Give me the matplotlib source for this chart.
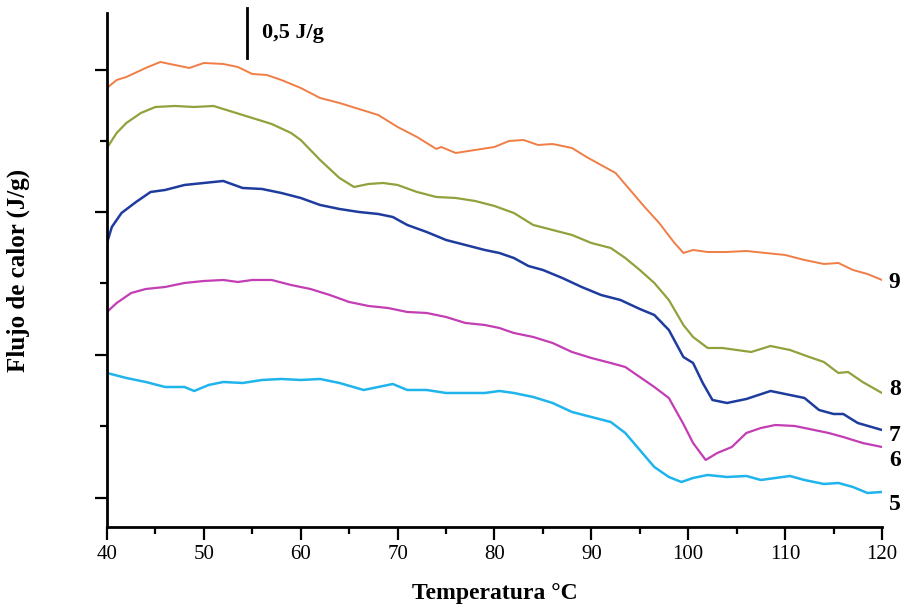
import matplotlib.pyplot as plt
from matplotlib.ticker import FixedLocator

# curva 9
t9 = [40, 41, 42, 44, 45.5, 47, 48.5, 50, 52, 53.5, 55, 56.5, 58, 60, 62, 64, 66, 68, 70, 72, 74, 74.5, 76, 78,
      80, 81.5, 83, 84.5, 86, 88, 89.5, 91, 92.5, 94, 95.5, 97, 98.5, 99.5, 100.5, 102, 104, 106, 108, 110, 112,
      114, 115.5, 117, 118.5, 120]
q9 = [4.39, 4.47, 4.50, 4.59, 4.65, 4.62, 4.59, 4.64, 4.63, 4.60, 4.53, 4.52, 4.47, 4.39, 4.29, 4.24, 4.18, 4.12,
      4.00, 3.90, 3.78, 3.80, 3.74, 3.77, 3.80, 3.86, 3.87, 3.82, 3.83, 3.79, 3.70, 3.62, 3.54, 3.37, 3.20, 3.04,
      2.85, 2.74, 2.77, 2.75, 2.75, 2.76, 2.74, 2.72, 2.67, 2.63, 2.64, 2.57, 2.53, 2.47]

# curva 8
t8 = [40, 41, 42, 43.5, 45, 47, 49, 51, 53, 55, 57, 59, 60, 62, 64, 65.5, 67, 68.5, 70, 72, 74, 76, 78, 80, 82,
      84, 86, 88, 90, 92, 93.5, 95, 96.5, 98, 99.5, 100.5, 102, 103.5, 105, 106.5, 108.5, 110.5, 112.5, 114,
      115.5, 116.5, 118, 120]
q8 = [3.79, 3.94, 4.04, 4.14, 4.20, 4.21, 4.20, 4.21, 4.15, 4.09, 4.03, 3.94, 3.87, 3.67, 3.49, 3.40, 3.43, 3.44,
      3.42, 3.35, 3.30, 3.29, 3.26, 3.21, 3.14, 3.02, 2.97, 2.92, 2.84, 2.79, 2.69, 2.57, 2.44, 2.27, 2.02, 1.90,
      1.79, 1.79, 1.77, 1.75, 1.81, 1.77, 1.70, 1.65, 1.54, 1.55, 1.45, 1.34]

# curva 7
t7 = [40, 40.5, 41.5, 43, 44.5, 46, 48, 50, 52, 54, 56, 58, 60, 62, 64, 66, 68, 69.5, 71, 73, 75, 77, 79, 80.5,
      82, 83.5, 85, 87, 89, 91, 93, 95, 96.5, 98, 99.5, 100.5, 101.5, 102.5, 104, 106, 108.5, 110, 112, 113.5,
      115, 116, 117.5, 120]
q7 = [2.84, 3.00, 3.14, 3.25, 3.35, 3.37, 3.42, 3.44, 3.46, 3.39, 3.38, 3.34, 3.29, 3.22, 3.18, 3.15, 3.13, 3.10,
      3.02, 2.95, 2.87, 2.82, 2.77, 2.74, 2.69, 2.61, 2.57, 2.49, 2.40, 2.32, 2.27, 2.18, 2.12, 1.97, 1.70, 1.64,
      1.44, 1.27, 1.24, 1.28, 1.36, 1.33, 1.29, 1.17, 1.13, 1.13, 1.04, 0.97]

# curva 6
t6 = [40, 41, 42.5, 44, 46, 48, 50, 52, 53.5, 55, 57, 59, 61, 63, 65, 67, 69, 71, 73, 75, 77, 79, 80.5, 82, 84,
      86, 88, 90, 92, 93.5, 95, 96.5, 98, 99.5, 100.5, 101.8, 103, 104.5, 106, 107.5, 109, 111, 113, 114.5, 116,
      118, 120]
q6 = [2.15, 2.24, 2.34, 2.38, 2.40, 2.44, 2.46, 2.47, 2.45, 2.47, 2.47, 2.42, 2.38, 2.32, 2.25, 2.21, 2.19, 2.15,
      2.14, 2.10, 2.04, 2.02, 1.99, 1.94, 1.90, 1.84, 1.75, 1.69, 1.64, 1.60, 1.50, 1.40, 1.29, 1.03, 0.84, 0.67,
      0.74, 0.80, 0.94, 0.99, 1.02, 1.01, 0.97, 0.94, 0.90, 0.84, 0.80]

# curva 5
t5 = [40, 42, 44, 46, 48, 49, 50.5, 52, 54, 56, 58, 60, 62, 64, 66.5, 69.5, 71, 73, 75, 77, 79, 80.5, 82, 84, 86,
      88, 90, 92, 93.5, 95, 96.5, 98, 99.3, 100.5, 102, 104, 106, 107.5, 109, 110.5, 112, 114, 115.5, 117, 118.5,
      120]
q5 = [1.54, 1.49, 1.45, 1.40, 1.40, 1.36, 1.42, 1.45, 1.44, 1.47, 1.48, 1.47, 1.48, 1.44, 1.37, 1.43, 1.37, 1.37,
      1.34, 1.34, 1.34, 1.36, 1.34, 1.30, 1.24, 1.15, 1.10, 1.05, 0.94, 0.77, 0.60, 0.50, 0.45, 0.49, 0.52, 0.50,
      0.51, 0.47, 0.49, 0.51, 0.47, 0.43, 0.44, 0.40, 0.34, 0.35]

labels = ['9', '8', '7', '6', '5']
label_y = [2.44, 1.37, 0.91, 0.66, 0.22]
colors = ['#F07D45', '#8FA23C', '#1E3C9E', '#C33DB4', '#20B4EC']

serif = ['Liberation Serif', 'DejaVu Serif']

fig = plt.figure(figsize=(9.02, 6.12), dpi=100)
ax = fig.add_axes([0.1186, 0.1389, 0.8592, 0.8399])

ax.plot(t9, q9, color=colors[0], lw=1.4)
ax.plot(t8, q8, color=colors[1], lw=1.6)
ax.plot(t7, q7, color=colors[2], lw=1.8)
ax.plot(t6, q6, color=colors[3], lw=1.6)
ax.plot(t5, q5, color=colors[4], lw=1.8)

for lab, yy in zip(labels, label_y):
    ax.text(120.7, yy, lab, fontsize=17, fontweight='bold', family=serif, va='center', ha='left', clip_on=False)

# barra de escala
ax.plot([54.45, 54.45], [4.69, 5.19], color='black', lw=2, clip_on=False)
ax.text(56.0, 4.94, '0,5 J/g', fontsize=16, fontweight='bold', family=serif, va='center', ha='left')

ax.set_xlim(40, 120)
ax.set_ylim(0, 5.14)
ax.set_xticks(range(40, 121, 10))
ax.set_xticks(range(45, 120, 10), minor=True)
ax.yaxis.set_major_locator(FixedLocator([0.29, 1.72, 3.15, 4.57]))
ax.yaxis.set_minor_locator(FixedLocator([1.005, 2.435, 3.86]))
ax.set_yticklabels([])
ax.spines['top'].set_visible(False)
ax.spines['right'].set_visible(False)
ax.spines['left'].set_linewidth(2)
ax.spines['bottom'].set_linewidth(2)
ax.tick_params(which='major', length=9, width=1.6, direction='out')
ax.tick_params(which='minor', length=5, width=1.6, direction='out')
ax.tick_params(axis='x', pad=4)
for lab in ax.get_xticklabels():
    lab.set_family(serif)
    lab.set_fontsize(15)

ax.set_xlabel('Temperatura °C', fontsize=17, fontweight='bold', family=serif)
ax.set_ylabel('Flujo de calor (J/g)', fontsize=18, fontweight='bold', family=serif)
ax.xaxis.set_label_coords(0.5, -0.13)
ax.yaxis.set_label_coords(-0.115, 0.5)
ax.xaxis.label.set_va('center')
ax.yaxis.label.set_va('center')

plt.savefig('out.png', dpi=100)
